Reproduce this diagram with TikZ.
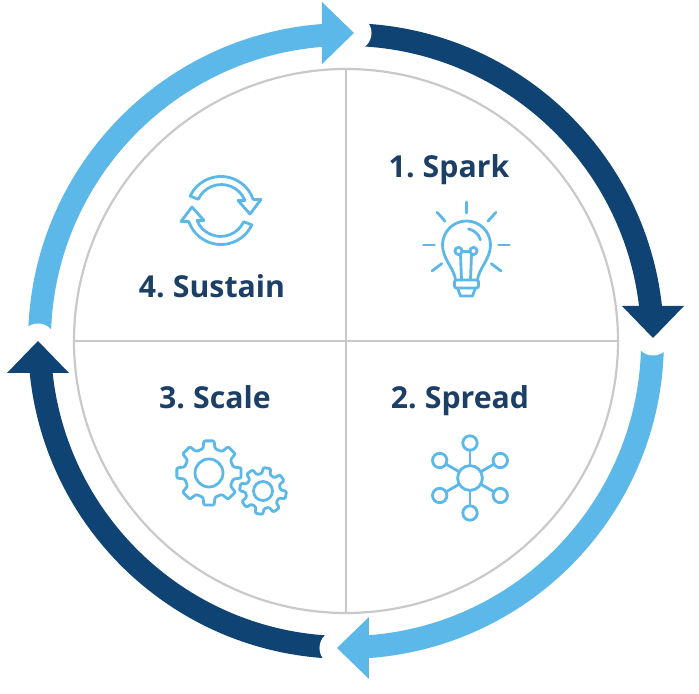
\documentclass[tikz,border=0pt]{standalone}
\usepackage{fontspec}
\setmainfont[WordSpace=0.7]{Open Sans}
\usetikzlibrary{positioning}
\definecolor{navyband}{HTML}{0F4374}
\definecolor{skyband}{HTML}{5BB8E8}
\definecolor{titleink}{HTML}{1B3F66}
\definecolor{quadline}{HTML}{C9C9C9}
\tikzset{
  band/.style={line width=0.57cm, line cap=butt},
  notch/.style={circle, fill=white, draw=none, minimum size=0.875cm, inner sep=0pt},
  quadtitle/.style={font=\fontsize{21.5pt}{24pt}\selectfont\bfseries, text=titleink, inner sep=0pt},
  iconline/.style={draw=skyband, line width=0.07cm, line cap=round, line join=round},
  hubdot/.style={circle, iconline, fill=white, minimum size=0.62cm, inner sep=0pt},
  satdot/.style={circle, iconline, fill=white, minimum size=0.36cm, inner sep=0pt}
}
\begin{document}
\begin{tikzpicture}[x=0.025cm,y=0.025cm]
\useasboundingbox (-346,-353) rectangle (353,341);
% outer ring
\foreach \from/\to/\col in {88.5/5/navyband, 0.5/-87/skyband, -91.7/-176/navyband, 180/92.5/skyband}
  \draw[band, draw=\col] (\from:306.5) arc[start angle=\from, end angle=\to, radius=306.5];
\coordinate (tiptop) at (8,308);
\coordinate (tipright) at (307,3);
\coordinate (tipbottom) at (-9,-307);
\coordinate (tipleft) at (-308,0);
\foreach \tip in {tiptop,tipright,tipbottom,tipleft}
  \node[notch] (notch\tip) at (\tip) {};
\foreach \tip/\rot/\col in {tiptop/0/skyband, tipright/-90/navyband, tipbottom/180/skyband, tipleft/90/navyband}
  \fill[\col, shift={(\tip)}, rotate=\rot] (0,0) -- (-32,31) -- (-32,-31) -- cycle;
% quadrants
\draw[quadline, line width=0.055cm] (0,0) circle (272);
\draw[quadline, line width=0.055cm] (0,272) -- (0,-272);
\draw[quadline, line width=0.055cm] (-272,0) -- (272,0);
\node[quadtitle] (spark) at (103,171) {1. Spark};
\node[quadtitle] (spread) at (114,-60) {2. Spread};
\node[quadtitle] (scale) at (-131,-56) {3. Scale};
\node[quadtitle] (sustain) at (-134,55) {4. Sustain};
% bulb
\begin{scope}[shift={(120.5,96)}]
\draw[iconline] (-11,-35) .. controls (-12,-24) and (-24,-14) .. (-24,0) arc[start angle=180, end angle=0, radius=24] .. controls (24,-14) and (12,-24) .. (11,-35);
\draw[iconline] (2,16) arc[start angle=80, end angle=15, radius=15];
\draw[iconline] (-8,-6) circle (3.6);
\draw[iconline] (7,-6) circle (3.6);
\draw[iconline] (-4.5,-6.5) -- (3.5,-6.5);
\draw[iconline] (-6,-9.5) -- (-5,-35);
\draw[iconline] (5,-9.5) -- (4,-35);
\draw[iconline, rounded corners=0.05cm] (-12,-35) rectangle (12,-43);
\draw[iconline] (-9,-43) -- (-6,-51) -- (6,-51) -- (9,-43);
\foreach \ang/\ra/\rb in {90/32/43, 48/32/44, 132/32/44, 0/32/43, 180/32/43, -37/31/43, -143/31/43}
  \draw[iconline] (\ang:\ra) -- (\ang:\rb);
\end{scope}
% hub and satellites
\node[hubdot] (hub) at (124,-137) {};
\foreach \ang in {90,30,-30,-90,-150,150}{
  \node[satdot] (sat\ang) at ([shift={(\ang:35)}]hub) {};
  \draw[iconline] (hub) -- (sat\ang);
}
% gears
\foreach \cx/\cy/\rr/\ro/\rh/\off in {-137/-132/25/32.5/14/0, -83/-150/17.5/23.5/9.5/-10}{
  \begin{scope}[shift={(\cx,\cy)}]
  \draw[iconline, rounded corners=0.03cm] (90+\off-14:\rr) \foreach \a in {0,45,...,315}{ -- (90+\off+\a-14:\rr) -- (90+\off+\a-9:\ro) -- (90+\off+\a+9:\ro) -- (90+\off+\a+14:\rr) } -- cycle;
  \draw[iconline] (0,0) circle (\rh);
  \end{scope}
}
% sync arrows
\foreach \rot in {0,180}
  \draw[iconline, shift={(-125,130.5)}, rotate=\rot] (155:34) arc[start angle=155, end angle=19, radius=34] -- (40,11) -- (29,-3.5) -- (17,10) -- (24,10) arc[start angle=22, end angle=155, radius=25.5] -- cycle;
\end{tikzpicture}
\end{document}
